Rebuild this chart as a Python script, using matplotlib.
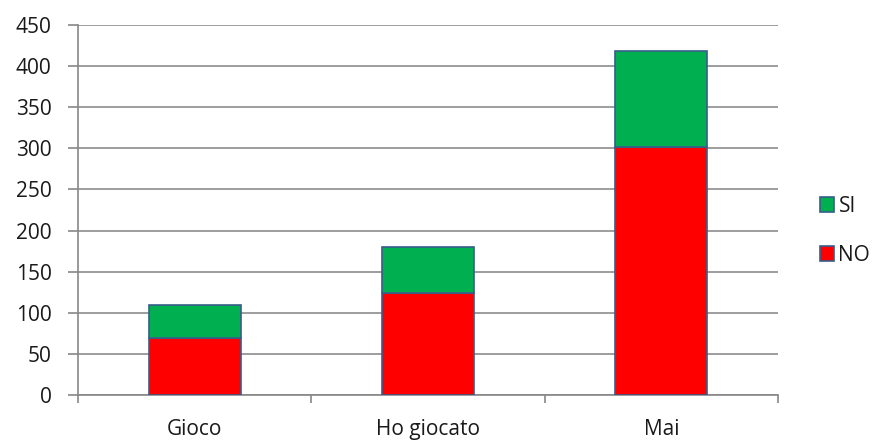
import matplotlib.pyplot as plt
import numpy as np

categories = ["Gioco", "Ho giocato", "Mai"]
no_values = [70, 124, 301]
si_values = [40, 56, 117]
y_ticks = [0, 50, 100, 150, 200, 250, 300, 350, 400, 450]

plt.rcParams['font.family'] = ['Open Sans', 'DejaVu Sans']
FS = 15
TXT = "#1a1a1a"

fig = plt.figure(figsize=(8.77, 4.41), dpi=100)
ax = fig.add_axes([78 / 877, (441 - 395.3) / 441, (778 - 78) / 877, (395.3 - 24.7) / 441])

x = np.arange(len(categories))
edge = "#385D8A"
ax.bar(x, no_values, width=0.395, color="#FF0000", edgecolor=edge, linewidth=1.2, label="NO", zorder=3)
ax.bar(x, si_values, bottom=no_values, width=0.395, color="#00B050", edgecolor=edge, linewidth=1.2, label="SI", zorder=3)

ax.set_xlim(-0.5, len(categories) - 0.5)
ax.set_ylim(0, 450)
ax.set_yticks(y_ticks)
ax.set_yticklabels([str(t) for t in y_ticks], fontsize=FS, color=TXT)
ax.set_xticks(x)
ax.set_xticklabels(categories, fontsize=FS, color=TXT)
ax.tick_params(axis='x', length=0, pad=17)
ax.tick_params(axis='y', length=7, width=1.2, color="#878787", pad=12)

# category separators below the axis
ax.set_xticks(np.arange(-0.5, len(categories)), minor=True)
ax.tick_params(axis='x', which='minor', length=6, width=1.2, color="#878787")

ax.yaxis.grid(True, color="#8C8C8C", linewidth=1.2, zorder=0)
ax.set_axisbelow(True)
for s in ["top", "right"]:
    ax.spines[s].set_visible(False)
ax.spines["left"].set_color("#878787")
ax.spines["bottom"].set_color("#878787")
ax.spines["left"].set_linewidth(1.2)
ax.spines["bottom"].set_linewidth(1.2)

handles, labels = ax.get_legend_handles_labels()
leg = fig.legend(handles[::-1], labels[::-1], loc="center left", bbox_to_anchor=(801 / 877, 1 - 231 / 441),
                 frameon=False, fontsize=FS, handlelength=0.7, handleheight=0.7, handletextpad=0.2,
                 labelspacing=1.35)
for t in leg.get_texts():
    t.set_color(TXT)

fig.savefig("out.png", dpi=100)
